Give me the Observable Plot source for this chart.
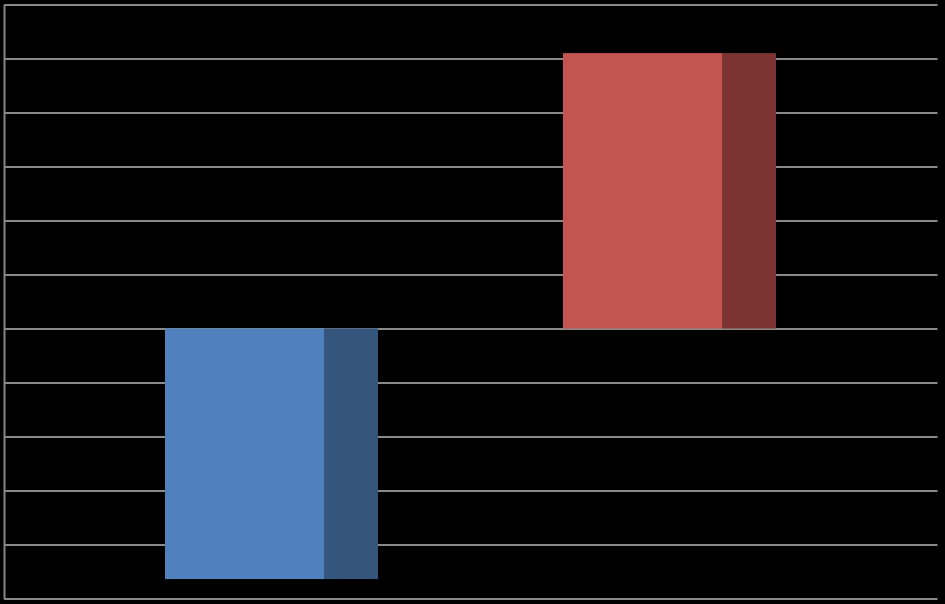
<!DOCTYPE html>
<html>
<head>
<meta charset="utf-8">
<script src="https://cdn.jsdelivr.net/npm/d3@7"></script>
<script src="https://cdn.jsdelivr.net/npm/@observablehq/plot@0.6"></script>
<style>
  html, body { margin: 0; padding: 0; background: #000; overflow: hidden; }
  svg { display: block; }
</style>
</head>
<body>
<div id="chart"></div>
<script>
const categories = ["A", "B"];
const values = [-4.64, 5.10];
const frontColors = ["#5081BE", "#C3544F"];
const sideColors = ["#34557C", "#7C3432"];
const gridTicks = [-5, -4, -3, -2, -1, 0, 1, 2, 3, 4, 5, 6];

const data = categories.map((c, i) => ({cat: c, value: values[i], front: frontColors[i], side: sideColors[i]}));

const leftAxis = (index, scales, values, dims) => {
  const line = document.createElementNS("http://www.w3.org/2000/svg", "line");
  line.setAttribute("x1", dims.marginLeft);
  line.setAttribute("x2", dims.marginLeft);
  line.setAttribute("y1", scales.y(6));
  line.setAttribute("y2", scales.y(-5) + 1);
  line.setAttribute("stroke", "#868686");
  line.setAttribute("stroke-width", 2);
  return line;
};

const chart = Plot.plot({
  width: 945,
  height: 604,
  marginLeft: 4.5,
  marginRight: 7.5,
  marginTop: 4.5,
  marginBottom: 5.5,
  style: {background: "#000"},
  x: {domain: categories, range: [72.5, 868.5], paddingInner: 0.4648, paddingOuter: 0.2324, axis: null},
  y: {domain: [-5, 6], axis: null},
  marks: [
    Plot.ruleY(gridTicks, {stroke: "#8a8a8a", strokeWidth: 2.2}),
    Plot.barY(data, {x: "cat", y: "value", fill: d => d.front, insetRight: 54}),
    Plot.barY(data, {x: "cat", y: "value", fill: d => d.side, insetLeft: 159}),
    leftAxis
  ]
});
document.getElementById("chart").appendChild(chart);
</script>
</body>
</html>
